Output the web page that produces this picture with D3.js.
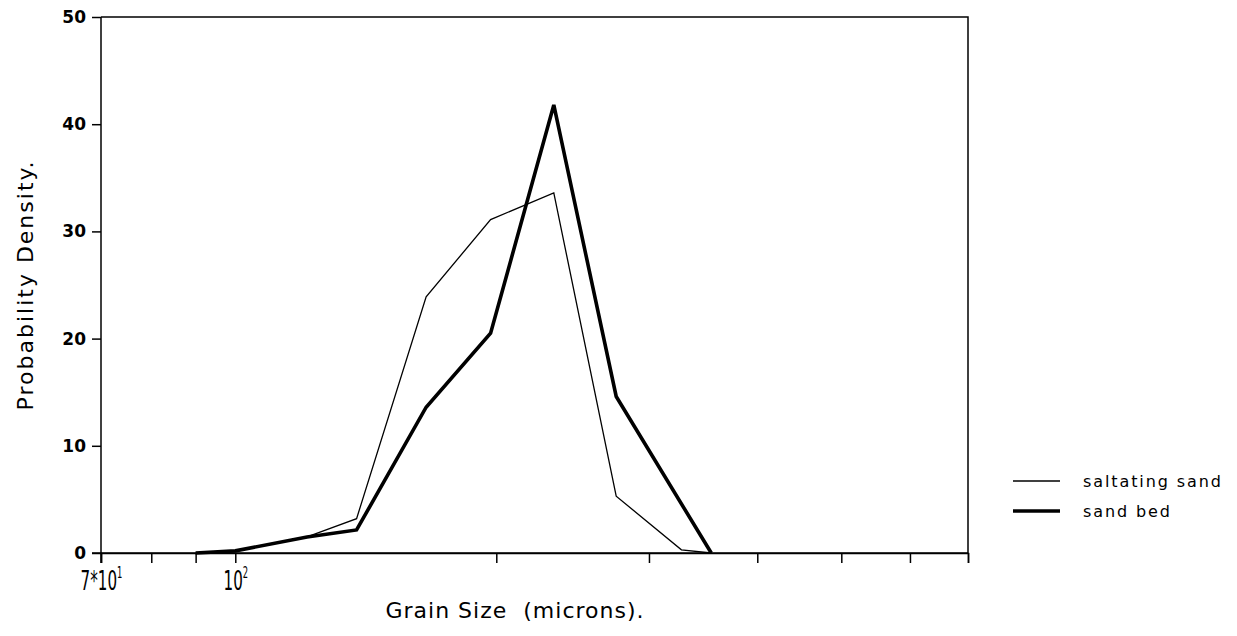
<!DOCTYPE html>
<html>
<head>
<meta charset="utf-8">
<script src="https://cdn.jsdelivr.net/npm/d3@7"></script>
<style>
  html, body { margin: 0; padding: 0; background: #fff; }
  svg { display: block; }
</style>
</head>
<body>
<svg id="chart" width="1237" height="636"></svg>
<script>
// Grain size (microns) at which each value was measured
const grainSize = [90, 100, 121, 138, 166, 197, 233, 275, 327, 354];
// Probability density, saltating sand (thin line)
const saltatingSand = [0, 0.2, 1.5, 3.2, 23.9, 31.1, 33.6, 5.3, 0.3, 0];
// Probability density, sand bed (thick line); null = no point
const sandBed = [0, 0.2, 1.5, 2.15, 13.6, 20.5, 41.8, 14.6, null, 0];
// Axis ticks
const xTicks = [70, 80, 90, 100, 200, 300, 400, 500, 600, 700];
const xTickLabels = { 70: ["7*10", "1"], 100: ["10", "2"] };
const yTicks = [0, 10, 20, 30, 40, 50];
const seriesNames = ["saltating sand", "sand bed"];

const svg = d3.select("#chart");
const mLeft = 101, mRight = 968, mTop = 17, mBottom = 553;

const x = d3.scaleLog().domain([70, 700]).range([mLeft, mRight]);
const y = d3.scaleLinear().domain([0, 50]).range([mBottom, mTop]);

const font = "'DejaVu Sans', sans-serif";

// frame (top and right)
svg.append("path")
  .attr("d", `M${mLeft},${mTop}H${mRight}V${mBottom}`)
  .attr("fill", "none").attr("stroke", "#000").attr("stroke-width", 1.5);

// x axis
const xAxis = d3.axisBottom(x)
  .tickValues(xTicks)
  .tickSize(10)
  .tickPadding(4)
  .tickFormat(() => "");
const gx = svg.append("g").attr("transform", `translate(0,${mBottom})`).call(xAxis);
gx.select(".domain").attr("stroke-width", 1.5);
gx.selectAll(".tick line").attr("stroke-width", 1.5);
gx.selectAll(".tick").each(function(d) {
  const lab = xTickLabels[d];
  if (!lab) return;
  const t = d3.select(this).select("text")
    .attr("font-family", font).attr("font-size", 27).attr("fill", "#000")
    .attr("y", 37).attr("dy", null).attr("text-anchor", "middle")
    .attr("transform", "scale(0.56,1)");
  t.append("tspan").text(lab[0]);
  t.append("tspan").attr("font-size", 15).attr("dy", -12).text(lab[1]);
});

// y axis
const yAxis = d3.axisLeft(y)
  .tickValues(yTicks)
  .tickSize(9)
  .tickPadding(6)
  .tickFormat(d3.format("d"));
const gy = svg.append("g").attr("transform", `translate(${mLeft},0)`).call(yAxis);
gy.select(".domain").remove();
gy.append("line").attr("x1", 0).attr("x2", 0).attr("y1", mTop).attr("y2", mBottom + 10)
  .attr("stroke", "#000").attr("stroke-width", 1.5);
gy.selectAll(".tick line").attr("stroke-width", 1.5);
gy.selectAll(".tick text")
  .attr("font-family", font).attr("font-size", 17).attr("font-weight", "bold").attr("fill", "#000");

// extend zero line left to tick
svg.append("line").attr("x1", mLeft - 9).attr("x2", mRight).attr("y1", mBottom).attr("y2", mBottom)
  .attr("stroke", "#000").attr("stroke-width", 1.5);

// lines
const line = d3.line()
  .x(d => x(d[0]))
  .y(d => y(d[1]));

const thinData = grainSize.map((g, i) => [g, saltatingSand[i]]);
const thickData = grainSize.map((g, i) => [g, sandBed[i]]).filter(d => d[1] !== null);

svg.append("path").datum(thinData).attr("d", line)
  .attr("fill", "none").attr("stroke", "#000").attr("stroke-width", 1.3)
  .attr("stroke-linejoin", "miter");
svg.append("path").datum(thickData).attr("d", line)
  .attr("fill", "none").attr("stroke", "#000").attr("stroke-width", 3.6)
  .attr("stroke-linejoin", "miter");

// axis titles
svg.append("text")
  .attr("x", 515).attr("y", 618)
  .attr("text-anchor", "middle")
  .attr("font-family", font).attr("font-size", 22).attr("letter-spacing", 1)
  .attr("xml:space", "preserve")
  .text("Grain Size  (microns).");
svg.append("text")
  .attr("transform", "translate(33,285) rotate(-90)")
  .attr("text-anchor", "middle")
  .attr("font-family", font).attr("font-size", 22).attr("letter-spacing", 2)
  .text("Probability Density.");

// legend
const legend = svg.append("g");
const widths = [1.3, 3.6];
seriesNames.forEach((name, i) => {
  const ly = 481 + i * 30;
  legend.append("line").attr("x1", 1013).attr("x2", 1060).attr("y1", ly).attr("y2", ly)
    .attr("stroke", "#000").attr("stroke-width", widths[i]);
  legend.append("text").attr("x", 1083).attr("y", ly).attr("dy", "0.35em")
    .attr("font-family", font).attr("font-size", 16).attr("letter-spacing", 1.9)
    .text(name);
});
</script>
</body>
</html>
